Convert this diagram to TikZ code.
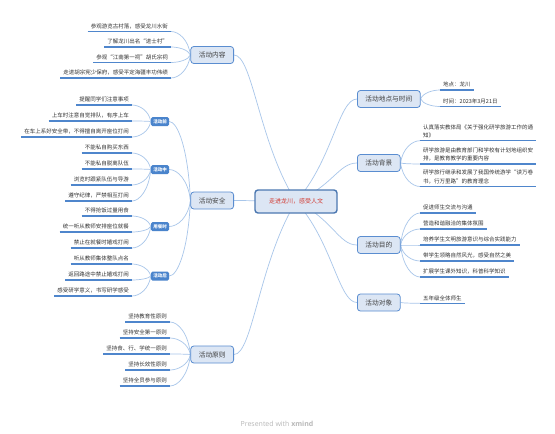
\documentclass[tikz,border=0pt]{standalone}
\usepackage{fontspec}
\setmainfont{Noto Sans CJK SC}
\newfontfamily\footfont{Open Sans}
\usetikzlibrary{calc}
\definecolor{boxfill}{HTML}{DCE6F4}
\definecolor{boxline}{HTML}{5A8DD0}
\definecolor{connc}{HTML}{A8C6EA}
\definecolor{ulinec}{HTML}{4F86CC}
\definecolor{tagfill}{HTML}{4A84CC}
\definecolor{leaftext}{HTML}{333333}
\definecolor{centertext}{HTML}{D23A32}
\pgfdeclarelayer{bg}
\pgfsetlayers{bg,main}
\tikzset{
 mainbox/.style={draw=boxline, fill=boxfill, rounded corners=3pt, line width=0.8pt, font=\fontsize{6.7}{8}\selectfont, text=black!75, minimum height=17pt, inner xsep=8pt, inner ysep=0pt},
 mainL/.style={mainbox, anchor=east},
 mainR/.style={mainbox, anchor=west},
 centerbox/.style={draw=boxline!85!black, fill=boxfill, rounded corners=3pt, line width=1.4pt, font=\fontsize{6}{7}\selectfont, text=centertext, minimum height=23pt, minimum width=82pt},
 tagbox/.style={fill=tagfill, rounded corners=1.5pt, text=white, font=\fontsize{4.5}{5}\selectfont\bfseries, minimum width=18pt, minimum height=9pt, inner sep=0pt},
 leafL/.style={anchor=south east, font=\fontsize{5.5}{8.4}\selectfont, text=leaftext, inner xsep=3pt, inner ysep=2.5pt, align=right},
 leafR/.style={anchor=south west, font=\fontsize{5.5}{8.4}\selectfont, text=leaftext, inner xsep=3pt, inner ysep=2.5pt, align=left},
 cline/.style={draw=connc, line width=0.7pt},
 uln/.style={draw=ulinec, line width=1.2pt},
}
\newcommand\leaf[4]{\node[#1] (#2) at (#3) {#4};
 \draw[uln] (#2.south west) -- (#2.south east);}
\newcommand\lnk[2]{\begin{pgfonlayer}{bg}\draw[cline] let \p1=(#1), \p2=(#2) in (\p1) .. controls ({\x1+0.1*(\x2-\x1)},{0.35*\y1+0.65*\y2}) and ({0.4*\x1+0.6*\x2},\y2) .. (\p2);\end{pgfonlayer}}
\newcommand\trunk[2]{\begin{pgfonlayer}{bg}\draw[cline] let \p1=(#1), \p2=(#2) in (\p1) .. controls ({0.4*\x1+0.6*\x2},{0.6*\y1+0.4*\y2}) and ({0.3*\x1+0.7*\x2},\y2) .. (\p2);\end{pgfonlayer}}
\begin{document}
\begin{tikzpicture}[x=1pt,y=-1pt]
\begin{pgfonlayer}{bg}
\fill[white] (0,0) rectangle (555,434);
\end{pgfonlayer}
\useasboundingbox (0,0) rectangle (555,434);

% center
\node[centerbox] (c) at (296,201.5) {走进龙川，感受人文};

% main branches
\node[mainL] (nr) at (234,55) {活动内容};
\node[mainL] (ns) at (234,200.5) {活动安全};
\node[mainL] (nz) at (234,354.5) {活动原则};
\node[mainR] (dt) at (357,99) {活动地点与时间};
\node[mainR] (bj) at (357,163) {活动背景};
\node[mainR] (md) at (357,245) {活动目的};
\node[mainR] (dx) at (357,302.5) {活动对象};

\trunk{c.center}{nr.east}
\trunk{c.center}{ns.east}
\trunk{c.center}{nz.east}
\trunk{c.center}{dt.west}
\trunk{c.center}{bj.west}
\trunk{c.center}{md.west}
\trunk{c.center}{dx.west}

% 活动内容
\leaf{leafL}{a1}{171,31.5}{参观游览古村落，感受龙川水街}
\leaf{leafL}{a2}{171,47}{了解龙川出名“进士村”}
\leaf{leafL}{a3}{171,62.5}{参观“江南第一祠”胡氏宗祠}
\leaf{leafL}{a4}{171,78}{走进胡宗宪少保府，感受平定海疆丰功伟绩}
\foreach \k in {a1,a2,a3,a4} {\lnk{nr.west}{\k.south east}}

% 活动安全 tags
\node[tagbox] (t1) at (160,121.5) {活动前};
\node[tagbox] (t2) at (160,169.5) {活动中};
\node[tagbox] (t3) at (160,226.5) {用餐时};
\node[tagbox] (t4) at (160,276) {活动后};
\foreach \k in {t1,t2,t3,t4} {\lnk{ns.west}{\k.east}}

\leaf{leafL}{b1}{132,105}{提醒同学们注意事项}
\leaf{leafL}{b2}{132,121}{上车时注意自觉排队，有序上车}
\leaf{leafL}{b3}{132,137}{在车上系好安全带，不得擅自离开座位打闹}
\foreach \k in {b1,b2,b3} {\lnk{t1.west}{\k.south east}}
\leaf{leafL}{b4}{132,153}{不能私自购买东西}
\leaf{leafL}{b5}{132,169}{不能私自脱离队伍}
\leaf{leafL}{b6}{132,185}{浏览时跟紧队伍与导游}
\leaf{leafL}{b7}{132,201}{遵守纪律，严禁相互打闹}
\foreach \k in {b4,b5,b6,b7} {\lnk{t2.west}{\k.south east}}
\leaf{leafL}{b8}{132,216}{不得抢饭过量用食}
\leaf{leafL}{b9}{132,232}{统一听从教师安排座位就餐}
\leaf{leafL}{b10}{132,248}{禁止在就餐时嬉戏打闹}
\foreach \k in {b8,b9,b10} {\lnk{t3.west}{\k.south east}}
\leaf{leafL}{b11}{132,264}{听从教师集体整队点名}
\leaf{leafL}{b12}{132,280}{返回路途中禁止嬉戏打闹}
\leaf{leafL}{b13}{132,296}{感受研学意义，书写研学感受}
\foreach \k in {b11,b12,b13} {\lnk{t4.west}{\k.south east}}

% 活动原则
\leaf{leafL}{z1}{170,322}{坚持教育性原则}
\leaf{leafL}{z2}{170,338}{坚持安全第一原则}
\leaf{leafL}{z3}{170,354}{坚持食、行、学统一原则}
\leaf{leafL}{z4}{170,370}{坚持长效性原则}
\leaf{leafL}{z5}{170,386}{坚持全员参与原则}
\foreach \k in {z1,z2,z3,z4,z5} {\lnk{nz.west}{\k.south east}}

% 活动地点与时间
\leaf{leafR}{d1}{440,90}{地点：龙川}
\leaf{leafR}{d2}{440,106.5}{时间：2023年3月21日}
\foreach \k in {d1,d2} {\lnk{dt.east}{\k.south west}}

% 活动背景
\leaf{leafR}{g1}{420,140.7}{认真落实教体局《关于强化研学旅游工作的通\\知》}
\leaf{leafR}{g2}{420,164}{研学旅游是由教育部门和学校有计划地组织安\\排，是教育教学的重要内容}
\leaf{leafR}{g3}{420,186.5}{研学旅行继承和发展了我国传统游学“读万卷\\书，行万里路”的教育理念}
\foreach \k in {g1,g2,g3} {\lnk{bj.east}{\k.south west}}

% 活动目的
\leaf{leafR}{m1}{420,213}{促进师生交流与沟通}
\leaf{leafR}{m2}{420,229}{营造和谐融洽的集体氛围}
\leaf{leafR}{m3}{420,245}{培养学生文明旅游意识与综合实践能力}
\leaf{leafR}{m4}{420,261}{带学生领略自然风光，感受自然之美}
\leaf{leafR}{m5}{420,277}{扩展学生课外知识，科普科学知识}
\foreach \k in {m1,m2,m3,m4,m5} {\lnk{md.east}{\k.south west}}

% 活动对象
\leaf{leafR}{o1}{420,303.3}{五年级全体师生}
\lnk{dx.east}{o1.south west}

% footer
\node[font=\footfont\fontsize{7}{8}\selectfont, text=black!28] (ft) at (277,424) {Presented with \textbf{xmind}};
\end{tikzpicture}
\end{document}
